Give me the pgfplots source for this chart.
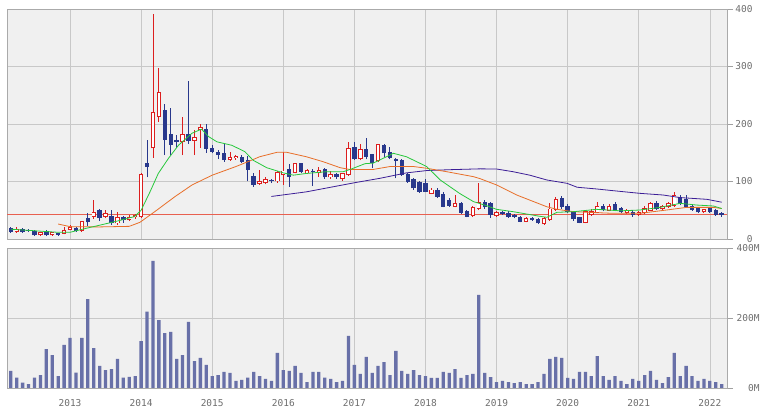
\documentclass[border=0pt]{standalone}
\usepackage{pgfplots}
\pgfplotsset{compat=1.18}
\usepackage{pgfplotstable}
\usepackage{fontspec}
\setmonofont{DejaVu Sans Mono}
\definecolor{upc}{RGB}{220,30,30}
\definecolor{dnc}{RGB}{40,56,140}
\definecolor{volc}{RGB}{104,112,168}
\definecolor{bgc}{RGB}{240,240,240}
\definecolor{gridc}{RGB}{200,200,200}
\definecolor{ma1}{RGB}{40,200,60}
\definecolor{ma2}{RGB}{232,110,40}
\definecolor{ma3}{RGB}{60,30,150}
\definecolor{refc}{RGB}{232,96,80}
\definecolor{labc}{RGB}{110,110,110}

\pgfplotstableread{
m O H L C
-9 11.6 20 11 18
-5 6.4 13 6 12.2
-3 6.4 13 6 12.2
-1 8.7 20 8 16.2
0 15.7 24 15 20.9
2 14.5 32 13 31.3
4 38.8 67 35 47.5
6 38.8 50 36 44.6
8 27 47 25 38.8
10 33 41 31 37.7
11 37.7 43 35 41
12 38.8 115 37 113
14 157.7 392 141 221
15 212 298 204 256
19 168 212 146 182
21 171 190 146 178
22 190 200 159 195
27 137 151 136 142.6
28 140 146 138 144
32 95.6 120 94 101.4
33 97 108 95 104
35 100 118 98 117
36 111 152 94 119
38 115 132 114 131.6
40 114 121 113 120
42 115 125 108 120
44 107 119 105 113
46 104 115 101 114
47 112 169 110 158
49 139 166 137 156.5
52 135.6 166 134.5 165
61 79 88 78 86
65 56 76.5 55 62
68 40 57 38 55
69 53 97 50 65
72 40 49 38 47
77 30 38 29 37
80 26 38 25 37
81 33 62 32 53
82 50.4 73.6 49 69
87 28 50 27 48
88 42 52 40 49
89 46 64 45 57
91 49 60 48 58
94 45 53 44 51
96 41.7 49 40 47.5
97 45 57 44 54
98 49 65 48 62
100 51.6 59 50 57.4
101 55 64 54 62
102 58 82 56 76.5
107 46.4 53 45 51.6
}\up

\pgfplotstableread{
m O H L C
-10 19 21 11 13
-8 17.4 19 11 12.8
-7 15.6 18 12 13.5
-6 14.5 15 6 6.4
-4 13.3 16 5.8 6.4
-2 9.9 10.5 6 7.5
1 19 21 13 14.5
3 36 46 23 29
5 50 53 31 36
7 40 50 25 27
9 38.8 40 28 33
13 133 172 107 126
16 224 234 146 172
17 182 228 146 164
18 171.5 181 158 168.5
20 183 275 166 170
23 192 200 150 157
24 159 164 149 151
25 152 154 139 146
26 150 165 134 137
29 143 146 132 134
30 137 145 100 120
31 109.6 115 91 94
34 102 105 97 100
37 121 130 91 108
39 131.6 133 115 117
41 118.5 121 92 116
43 121 123 105 107
45 113 114 105 107
48 160.6 169 137 138.6
50 156.5 176 138.6 143
51 147 147.5 123 131.6
53 163.5 165 143 149
54 150.7 160 138.6 140
55 139.7 140.5 105.5 135.6
56 137 138.6 110 111
57 113 114 98 99.7
58 105 105.5 86 88
59 99.7 100 80 82
60 97 104 81 82.5
62 85 88 71 73.6
63 79 82 55 56
64 67 72 56 57.4
66 63 65 43.5 45.8
67 49 50 37.7 39
70 65 68 53 55
71 62 65 37 42
73 47.5 49 42 43.5
74 46 48 37 38
75 42 43 36 38
76 39 40 29 30
78 37 39 32 33
79 34.8 36 26 27.2
83 72 75 53 55
84 58 60 46 47.5
85 46.5 48 32 34
86 37.5 38 27 28.4
90 58 60 48 50
92 60 64 48 49
93 53.3 55 45 46.4
95 47.5 50 39 42
99 62 66 50 52
103 73.6 76 59 61
104 69.5 76.5 54 55
105 57.4 59 49 50.4
106 54 55 45 46.4
108 53.3 55 46 47.5
109 50.4 52 40 41.7
110 44.6 47 39 42.5
}\dn

\pgfplotstableread{
m V
-10 48.6
-9 29.5
-8 15
-7 11.4
-6 29.5
-5 37
-4 111
-3 94
-2 34
-1 123
0 143
1 44
2 143
3 254
4 114
5 63
6 51
7 54
8 83
9 29.5
10 32
11 34
12 134
13 218
14 363
15 194
16 157
17 160
18 83
19 94
20 189
21 77
22 86
23 66
24 34
25 37
26 46
27 43
28 20
29 23
30 29.5
31 46
32 34
33 26
34 20
35 100
36 51
37 49
38 63
39 43
40 17
41 46
42 46
43 29.5
44 26
45 17
46 20
47 149
48 66
49 40
50 89
51 43
52 63
53 74
54 37
55 106
56 48.6
57 40
58 51
59 37
60 34
61 28.6
62 28.6
63 46
64 43
65 54
66 28.6
67 37
68 40
69 266
70 43
71 31
72 17
73 20
74 17
75 14
76 17
77 11.4
78 11.4
79 17
80 40
81 83
82 89
83 86
84 28.6
85 26
86 46
87 46
88 34
89 91
90 34
91 23
92 34
93 20
94 11.4
95 26
96 20
97 37
98 48.6
99 23
100 14
101 31
102 100
103 34
104 63
105 34
106 20
107 26
108 20
109 17
110 11.4
}\vol

\pgfplotsset{
  panel/.style={
    scale only axis, width=720pt, xmin=-10.64, xmax=110.9,
    axis background/.style={fill=bgc},
    axis line style={draw=gridc!85!black, line width=0.6pt},
    grid=major, major grid style={draw=gridc, line width=0.6pt},
    xtick={0,12,...,108},
    xtick style={draw=none},
    ytick pos=right,
    ytick style={draw=gridc!80!black, line width=0.6pt},
    major tick length=6pt,
    tick align=outside,
    /pgf/number format/assume math mode=true,
    tick label style={font=\ttfamily\fontsize{9.5}{10}\selectfont, text=labc},
    yticklabel style={anchor=east, xshift=23pt},
    clip=true,
  },
  wick/.style={draw=none, forget plot, error bars/.cd, y dir=plus, y explicit, error mark=none,
    error bar style={draw=#1, line width=0.9pt, solid}},
  body/.style={draw=none, forget plot, error bars/.cd, y dir=plus, y explicit, error mark=none,
    error bar style={draw=#1, line width=4.4pt, solid}},
  inner/.style={draw=none, forget plot, error bars/.cd, y dir=plus, y explicit, error mark=none,
    error bar style={draw=#1, line width=2.6pt, solid}},
}

\begin{document}
\begin{tikzpicture}
\useasboundingbox (0,0) rectangle (766pt,414pt);
\begin{axis}[panel, at={(7pt,175pt)}, anchor=south west, height=230pt,
  ymin=0, ymax=400, ytick={0,100,200,300,400}, yticklabels={0,100,200,300,400},
  xticklabels={}]
\addplot[refc, line width=0.6pt] coordinates {(-10.64,43) (110.9,43)};
\addplot[wick=upc] table[x=m, y=L, y error expr=\thisrow{H}-\thisrow{L}] {\up};
\addplot[wick=dnc] table[x=m, y=L, y error expr=\thisrow{H}-\thisrow{L}] {\dn};
\addplot[body=dnc] table[x=m, y=C, y error expr=\thisrow{O}-\thisrow{C}] {\dn};
\addplot[body=upc] table[x=m, y=O, y error expr=\thisrow{C}-\thisrow{O}] {\up};
\addplot[inner=white] table[x=m, y expr=\thisrow{O}+1.6, y error expr={max(\thisrow{C}-\thisrow{O}-3.2,0)}] {\up};
% moving averages
\addplot[ma3, line width=0.8pt] coordinates {(34,74) (39.9,82) (48.1,98) (52.3,105.5) (56.8,115) (60.2,119) (64,120.5) (69.2,122) (72,121.7) (74.8,117) (77.6,111) (80.5,102.6) (83.9,96.8) (85.6,90) (88.9,87) (91.7,84) (96.2,79.4) (100.1,76.5) (103,72) (107.5,69) (110,64)};
\addplot[ma2, line width=0.8pt] coordinates {(-2,26) (0,21.5) (5,21) (10,22) (11.8,29) (14.3,47.5) (17.7,73.6) (20.6,94) (24,111) (28,126) (30.4,136) (32,143) (34.9,150.7) (36.6,150.7) (39.9,143) (42.7,134.5) (45.6,124) (47.2,121) (51.2,121) (54,126) (58,126) (60.2,123) (63.6,117) (68.1,108.4) (69.2,105) (72,94) (75.4,76.5) (80.5,56) (82.2,51.6) (85,47.5) (91.7,44.6) (96.2,44.6) (100.7,50.4) (104.1,55) (108.6,55) (110,53)};
\addplot[ma1, line width=0.8pt] coordinates {(-10,17) (-6.25,14.5) (-2,11.6) (0,11.6) (2,16.8) (5,24) (7.9,31) (10.9,39) (12,50) (13.5,82) (14.9,114) (16.6,140) (18.3,163) (20.6,184) (22.2,191) (23.4,178) (24.8,169) (27.3,163) (29.5,152) (30.9,137) (33.2,124) (36,115) (37.7,111) (39.9,114) (43.3,117) (46.1,117) (47.3,121) (49.8,131) (51.2,132) (54.6,149) (56.8,143) (60.2,126) (62.5,102.6) (65.8,79) (68.1,65) (70.3,58) (72,51.6) (74.8,47.5) (79,40) (80.5,37.7) (82.2,46.4) (85,47.5) (88.9,51.6) (92.9,49) (96.2,50.4) (99.6,55) (103,62) (105.8,59) (108.6,57.4) (110,53)};
\end{axis}
\begin{axis}[panel, at={(7pt,26pt)}, anchor=south west, height=140pt,
  ymin=0, ymax=400, ytick={0,200,400}, yticklabels={0M,200M,400M},
  yticklabel style={xshift=7pt},
  xticklabels={2013,2014,2015,2016,2017,2018,2019,2020,2021,2022},
  xticklabel style={anchor=center, yshift=-9pt}]
\addplot[ybar, bar width=3.3pt, bar shift=0pt, fill=volc, draw=none] table[x=m, y=V] {\vol};
\end{axis}
\end{tikzpicture}
\end{document}
